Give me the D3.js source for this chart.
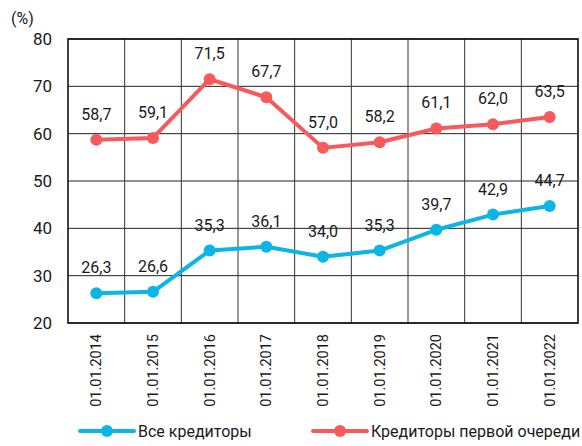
<!DOCTYPE html>
<html>
<head>
<meta charset="utf-8">
<script src="https://cdn.jsdelivr.net/npm/d3@7"></script>
<style>
    body { margin: 0; background: #fff; }
    text { font-family: Roboto, "Noto Sans", sans-serif; fill: #1a1a1a; }
</style>
</head>
<body>
<svg id="chart" width="582" height="446"></svg>
<script>
    // data
    var dates = ["01.01.2014", "01.01.2015", "01.01.2016", "01.01.2017", "01.01.2018",
                 "01.01.2019", "01.01.2020", "01.01.2021", "01.01.2022"];
    var allCreditors = [26.3, 26.6, 35.3, 36.1, 34.0, 35.3, 39.7, 42.9, 44.7];
    var firstCreditors = [58.7, 59.1, 71.5, 67.7, 57.0, 58.2, 61.1, 62.0, 63.5];
    var yTicks = [20, 30, 40, 50, 60, 70, 80];
    var seriesNames = ["Все кредиторы", "Кредиторы первой очереди"];

    var colors = ["#0bb6e6", "#f65a5c"];

    var margin = { top: 39, left: 68, right: 4, bottom: 123 };
    var svg = d3.select("#chart");
    var w = +svg.attr("width"), h = +svg.attr("height");
    var width = w - margin.left - margin.right;   // 510
    var height = h - margin.top - margin.bottom;  // 284

    var chart = svg.append("g")
        .attr("transform", "translate(" + margin.left + "," + margin.top + ")");

    var x = d3.scaleBand().domain(dates).range([0, width]);
    var y = d3.scaleLinear().domain([20, 80]).range([height, 0]);

    // horizontal gridlines
    chart.selectAll(".hgrid")
        .data(yTicks)
        .enter().append("line")
        .attr("x1", 0).attr("x2", width)
        .attr("y1", function(d) { return y(d); })
        .attr("y2", function(d) { return y(d); })
        .attr("stroke", "#222").attr("stroke-width", 1);

    // vertical gridlines at band edges
    chart.selectAll(".vgrid")
        .data(dates.slice(1))
        .enter().append("line")
        .attr("x1", function(d) { return x(d); })
        .attr("x2", function(d) { return x(d); })
        .attr("y1", 0).attr("y2", height)
        .attr("stroke", "#333").attr("stroke-width", 1);

    // frame
    chart.append("rect")
        .attr("x", 0).attr("y", 0)
        .attr("width", width).attr("height", height)
        .attr("fill", "none")
        .attr("stroke", "#111").attr("stroke-width", 1.6);

    // y axis labels
    var yAxis = d3.axisLeft(y).tickValues(yTicks).tickSize(0).tickPadding(16);
    chart.append("g").call(yAxis)
        .call(function(g) { g.select(".domain").remove(); })
        .selectAll("text")
        .style("font-size", "17px")
        .attr("fill", "#1a1a1a");

    svg.append("text")
        .attr("x", 11).attr("y", 24)
        .style("font-size", "16px")
        .text("(%)");

    // x axis labels rotated
    var xAxis = d3.axisBottom(x).tickSize(0).tickPadding(0);
    chart.append("g")
        .attr("transform", "translate(0," + height + ")")
        .call(xAxis)
        .call(function(g) { g.select(".domain").remove(); })
        .selectAll("text")
        .style("font-size", "14.5px")
        .attr("fill", "#1a1a1a")
        .attr("text-anchor", "end")
        .attr("transform", "rotate(-90)")
        .attr("x", -11)
        .attr("y", 0)
        .attr("dy", "0.35em");

    var line = d3.line()
        .x(function(d, i) { return x(dates[i]) + x.bandwidth() / 2; })
        .y(function(d) { return y(d); });

    [allCreditors, firstCreditors].forEach(function(series, s) {
        var g = chart.append("g");
        g.append("path")
            .datum(series)
            .attr("d", line)
            .attr("fill", "none")
            .attr("stroke", colors[s])
            .attr("stroke-width", 4)
            .attr("stroke-linejoin", "round");
        g.selectAll("circle")
            .data(series)
            .enter().append("circle")
            .attr("cx", function(d, i) { return x(dates[i]) + x.bandwidth() / 2; })
            .attr("cy", function(d) { return y(d); })
            .attr("r", 6)
            .attr("fill", colors[s]);
        g.selectAll(".val")
            .data(series)
            .enter().append("text")
            .attr("x", function(d, i) { return x(dates[i]) + x.bandwidth() / 2; })
            .attr("y", function(d) { return y(d) - 20; })
            .attr("text-anchor", "middle")
            .style("font-size", "16px")
            .text(function(d) { return d3.format(".1f")(d).replace(".", ","); });
    });

    // legend
    var legendX = [80, 313];
    var legend = svg.append("g").attr("transform", "translate(0,431)");
    seriesNames.forEach(function(name, s) {
        var lg = legend.append("g").attr("transform", "translate(" + legendX[s] + ",0)");
        lg.append("line")
            .attr("x1", 0).attr("x2", 54)
            .attr("y1", 0).attr("y2", 0)
            .attr("stroke", colors[s]).attr("stroke-width", 4)
            .attr("stroke-linecap", "round");
        lg.append("circle")
            .attr("cx", 27).attr("cy", 0).attr("r", 6)
            .attr("fill", colors[s]);
        lg.append("text")
            .attr("x", 58).attr("y", 0).attr("dy", "0.35em")
            .style("font-size", "16px")
            .text(name);
    });
</script>
</body>
</html>
